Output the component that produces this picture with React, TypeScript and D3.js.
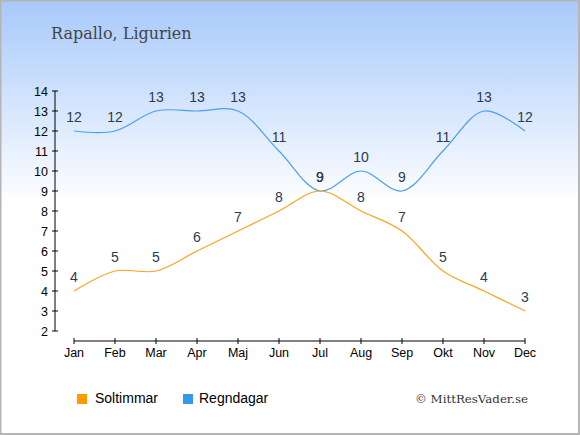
import React from "react";
import * as d3 from "d3";

const months = ["Jan","Feb","Mar","Apr","Maj","Jun","Jul","Aug","Sep","Okt","Nov","Dec"];
const sunHours = [4,5,5,6,7,8,9,8,7,5,4,3];
const rainDays = [12,12,13,13,13,11,9,10,9,11,13,12];
const yTicks = [2,3,4,5,6,7,8,9,10,11,12,13,14];

const W = 580, H = 435;

export default function App() {
  const x = d3.scalePoint<string>().domain(months).range([74, 525]);
  const y = d3.scaleLinear().domain([2, 14]).range([331, 91]);
  const line = d3.line<number>()
    .x((_, i) => x(months[i]) as number)
    .y((d) => y(d))
    .curve(d3.curveCatmullRom.alpha(0.5));
  const labelColor = "#2d3a52";
  const sans = "'Liberation Sans', Arial, sans-serif";
  const serif = "'DejaVu Serif', serif";
  return (
    <svg width={W} height={H} style={{ position: "absolute", left: 0, top: 0 }}>
      <defs>
        <linearGradient id="bg" x1="0" y1="0" x2="0" y2="1">
          <stop offset="0" stopColor="#a7c9fb" />
          <stop offset="0.47" stopColor="#ffffff" />
          <stop offset="1" stopColor="#ffffff" />
        </linearGradient>
      </defs>
      <rect x={0} y={0} width={W} height={H} fill="url(#bg)" />
      <rect x={0.5} y={0.5} width={W - 1.5} height={H - 1.5} fill="none" stroke="#b5b5b5" strokeWidth={2} />
      <text x={51} y={39} fontFamily={serif} fontSize={16} fill="#444">Rapallo, Ligurien</text>

      {/* Y axis */}
      <line x1={55} x2={55} y1={y(14)} y2={y(2)} stroke="#000" />
      {yTicks.map((t) => (
        <g key={t}>
          <line x1={52} x2={58} y1={y(t)} y2={y(t)} stroke="#000" />
          <text x={48} y={y(t) + 4.5} textAnchor="end" fontFamily={sans} fontSize={12.5} fill="#000">{t}</text>
        </g>
      ))}

      {/* X axis */}
      <line x1={x("Jan")} x2={x("Dec")} y1={341} y2={341} stroke="#000" />
      {months.map((m) => (
        <g key={m}>
          <line x1={x(m)} x2={x(m)} y1={338} y2={344} stroke="#000" />
          <text x={x(m)} y={357} textAnchor="middle" fontFamily={sans} fontSize={12.5} fill="#000">{m}</text>
        </g>
      ))}

      <path d={line(rainDays) || ""} fill="none" stroke="#4aa0ec" strokeWidth={1.2} />
      <path d={line(sunHours) || ""} fill="none" stroke="#ffa31f" strokeWidth={1.2} />

      {rainDays.map((v, i) => (
        <text key={"r" + i} x={x(months[i])} y={y(v) - 9} textAnchor="middle" fontFamily={sans} fontSize={14} fill={labelColor}>{v}</text>
      ))}
      {sunHours.map((v, i) => (
        <text key={"s" + i} x={x(months[i])} y={y(v) - 9} textAnchor="middle" fontFamily={sans} fontSize={14} fill={labelColor}>{v}</text>
      ))}

      {/* Legend */}
      <rect x={77} y={394} width={10} height={10} fill="#ff9900" />
      <text x={95} y={403} fontFamily={sans} fontSize={14} fill="#000">Soltimmar</text>
      <rect x={183} y={394} width={10} height={10} fill="#3399ee" />
      <text x={199} y={403} fontFamily={sans} fontSize={14} fill="#000">Regndagar</text>
      <text x={528} y={403} textAnchor="end" fontFamily={serif} fontSize={11.8} fill="#333">© MittResVader.se</text>
    </svg>
  );
}
